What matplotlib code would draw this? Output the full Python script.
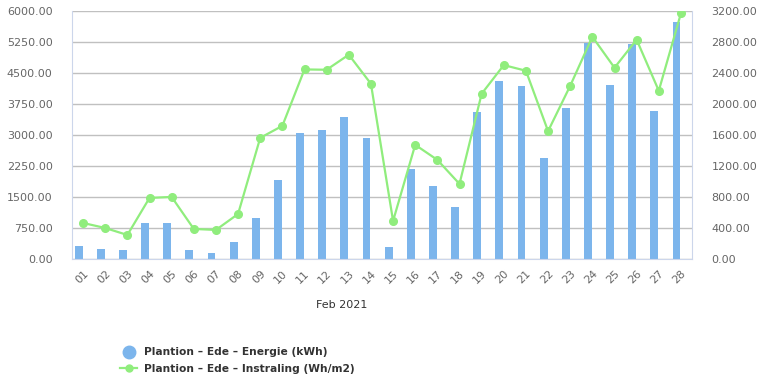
import matplotlib
matplotlib.use("Agg")
import matplotlib.pyplot as plt
from matplotlib.lines import Line2D
import numpy as np

days = ["01","02","03","04","05","06","07","08","09","10","11","12","13","14",
        "15","16","17","18","19","20","21","22","23","24","25","26","27","28"]
energie = [315, 242, 218, 872, 872, 218, 145, 412, 993, 1914, 3052, 3125, 3440, 2931,
           291, 2180, 1768, 1260, 3561, 4312, 4191, 2447, 3658, 5233, 4215, 5208, 3585, 5741]
instraling = [465, 400, 310, 788, 801, 388, 375, 581, 1563, 1718, 2446, 2442, 2636, 2261,
              491, 1473, 1279, 969, 2132, 2502, 2429, 1650, 2235, 2868, 2468, 2830, 2171, 3170]
left_ticks = [0, 750, 1500, 2250, 3000, 3750, 4500, 5250, 6000]
right_ticks = [0, 400, 800, 1200, 1600, 2000, 2400, 2800, 3200]

bar_color = "#7cb5ec"
line_color = "#90ed7d"
grid_color = "#c0c0c0"
axis_color = "#ccd6eb"
tick_color = "#666666"

fig = plt.figure(figsize=(7.76, 3.88), dpi=100)
ax = fig.add_axes([72/776, 1-259/388, 620/776, 248/388])
ax2 = ax.twinx()

x = np.arange(len(days))
ax.bar(x - 0.2, energie, width=0.36, color=bar_color, zorder=2)
ax.set_ylim(0, 6000)
ax.set_yticks(left_ticks)
ax.set_yticklabels([f"{v:.2f}" for v in left_ticks])
ax.set_xlim(-0.5, len(days) - 0.5)
ax.set_xticks(x)
ax.set_xticklabels(days, rotation=45, ha="right", va="top", rotation_mode="anchor")
ax.grid(axis="y", color=grid_color, linewidth=1, zorder=0)
ax.set_axisbelow(True)

ax2.plot(x, instraling, color=line_color, linewidth=1.6, marker="o", markersize=5.5, zorder=3)
ax2.set_ylim(0, 3200)
ax2.set_yticks(right_ticks)
ax2.set_yticklabels([f"{v:.2f}" for v in right_ticks])

for a in (ax, ax2):
    a.tick_params(axis="y", length=0, pad=14, labelsize=8, labelcolor=tick_color)
    for s in a.spines.values():
        s.set_visible(False)
ax.tick_params(axis="x", length=0, pad=7, labelsize=8, labelcolor=tick_color)
ax.spines["left"].set_visible(True)
ax.spines["left"].set_color(axis_color)
ax.spines["bottom"].set_visible(True)
ax.spines["bottom"].set_color(axis_color)
ax2.spines["right"].set_visible(True)
ax2.spines["right"].set_color(axis_color)

fig.text(342/776, 1-305/388, "Feb 2021", ha="center", va="center", fontsize=8, color="#333333")

handles = [
    Line2D([0], [0], marker="o", linestyle="none", markersize=9, color=bar_color),
    Line2D([0], [0], marker="o", linestyle="-", linewidth=1.6, markersize=5, color=line_color),
]
labels = ["Plantion \u2013 Ede \u2013 Energie (kWh)", "Plantion \u2013 Ede \u2013 Instraling (Wh/m2)"]
leg = fig.legend(handles, labels, loc="upper left", bbox_to_anchor=(116/776, 1-343/388),
                 frameon=False, prop={"weight": "bold", "size": 7.7}, handlelength=1.6,
                 handletextpad=0.6, labelspacing=0.6, borderaxespad=0)
for t in leg.get_texts():
    t.set_color("#333333")

fig.savefig("out.png", dpi=100)
